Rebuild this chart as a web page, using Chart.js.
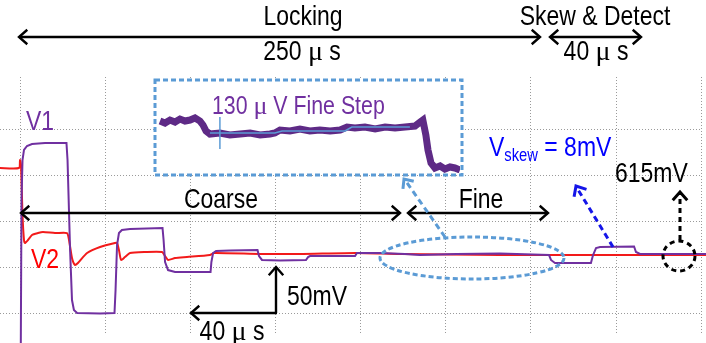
<!DOCTYPE html>
<html><head><meta charset="utf-8">
<script src="https://cdn.jsdelivr.net/npm/chart.js@4/dist/chart.umd.min.js"></script>
<style>
html,body{margin:0;padding:0;background:#fff;overflow:hidden}
#wrap{position:relative;width:706px;height:343px}
#main{position:absolute;left:0;top:0}
#inset{position:absolute;left:158px;top:83px}
</style></head>
<body><div id="wrap"><canvas id="main" width="706" height="343"></canvas><canvas id="inset" width="302" height="90"></canvas></div>
<script>
// ---- DATA (time in µs, voltage in mV; 40 µs/div, 50 mV/div) ----
const xTicks = [0, 40, 80, 120, 160, 200, 240, 280, 320];
const yTicks = [0, 50, 100, 150, 200];
const v1Time = [-9.88, -0.1, 0.24, 0.71, 1.41, 2.82, 5.18, 11.3, 21.4, 21.9, 23.1, 24.0, 24.9, 26.4, 37.2, 44.0, 44.5, 45.2, 46.1, 47.5, 51.3, 66.6, 67.1, 67.8, 69.2, 72.5, 89.2, 89.6, 90.4, 91.8, 98.4, 111.3, 112.0, 113.4, 121.9, 134.1, 135.1, 136.0, 157.2, 158.1, 168.9, 180.7, 187.8, 205.0, 225.4, 248.5, 249.4, 251.3, 260.7, 268.2, 269.2, 270.6, 272.5, 288.5, 289.4, 291.3, 322.4];
const v1mV   = [-40, -40, 123, 167, 178, 182.3, 184.5, 185.6, 185.6, 167, 68.8, 14.2, 3.3, 0, -0.5, 0, 25.1, 74.2, 87.3, 90.6, 91.7, 92.8, 79.7, 55.7, 46.9, 44.8, 44.8, 55.7, 65.5, 67.7, 68.2, 68.8, 62.2, 57.9, 57.3, 57.9, 61.1, 62.2, 62.2, 65.5, 65.5, 64.4, 63.3, 64.4, 64.9, 63.3, 57.9, 54.6, 54.6, 54.6, 63.3, 70.9, 72.0, 72.6, 66.6, 64.4, 64.4];
const v2Time = [-9.88, -0.94, -0.47, 0, 0.71, 1.41, 1.88, 3.29, 5.18, 8.0, 10.35, 16.0, 21.65, 22.6, 24.0, 25.4, 26.8, 31.1, 37.2, 44.2, 45.2, 46.1, 47.1, 48.9, 51.3, 58.4, 66.4, 67.8, 69.2, 72.5, 78.1, 88.9, 90.8, 112.5, 131.3, 157.6, 178.4, 225.4, 272.5, 322.4];
const v2mV   = [158.3, 158.3, 167.0, 161.6, 107, 79.7, 76.4, 79.7, 85.2, 87.3, 88.4, 87.3, 87.3, 79.7, 60.0, 52.4, 54.6, 65.5, 72.1, 76.4, 76.4, 68.8, 57.9, 61.1, 65.5, 66.6, 66.6, 62.2, 57.9, 60.0, 61.1, 63.3, 65.5, 64.4, 64.4, 65.5, 64.4, 63.3, 63.3, 63.3];
// inset (zoomed V1 during fine locking): relative time %, µV
const insetT  = [0.66, 2.32, 3.97, 5.63, 7.28, 8.94, 10.6, 12.25, 13.9, 14.9, 15.9, 17.2, 20.5, 23.8, 27.2, 30.5, 33.8, 37.1, 38.7, 40.4, 43.7, 47.0, 50.3, 53.6, 57.0, 60.3, 62.6, 65.2, 68.5, 71.9, 75.2, 78.5, 81.8, 85.1, 86.8, 87.7, 88.7, 89.4, 90.4, 91.7, 93.4, 95.0, 96.7, 98.3, 100];
const insetUV = [1617, 1555, 1648, 1586, 1679, 1617, 1648, 1711, 1617, 1493, 1306, 1213, 1244, 1182, 1213, 1244, 1182, 1213, 1244, 1337, 1306, 1368, 1306, 1337, 1306, 1337, 1431, 1400, 1431, 1368, 1431, 1400, 1431, 1462, 1586, 1648, 1182, 715, 311, 156, 218, 124, 187, 156, 93];
const cursorT  = [17.2, 38.7, 41.1, 61.9, 64.2, 83.4];
const cursorUV = [1244, 1244, 1306, 1306, 1431, 1431];
const markerT = [20.5], markerUV = [1244];

// ---- fonts ----
const NARROW = (function(){
  const c = document.createElement('canvas').getContext('2d');
  c.font = '100px "Liberation Sans Narrow"'; const a = c.measureText('Locking Skew Detect').width;
  c.font = '100px "Liberation Sans"'; const b = c.measureText('Locking Skew Detect').width;
  return a / b < 0.9;
})();
function fontStr(s, f){
  if (f === 's') return s + 'px "Liberation Serif", "DejaVu Serif", serif';
  return s + 'px ' + (NARROW ? '"Liberation Sans Narrow"' : '"Liberation Sans", Arial, sans-serif');
}
function sx(f){ return (f !== 's' && !NARROW) ? 0.82 : 1; }
function rich(ctx, parts, x, y, align, color){
  const w = parts.map(p => { ctx.font = fontStr(p.s, p.f); return ctx.measureText(p.t).width * sx(p.f); });
  const tot = w.reduce((a, b) => a + b, 0);
  let cx = align === 'center' ? x - tot / 2 : (align === 'right' ? x - tot : x);
  parts.forEach((p, i) => {
    ctx.save(); ctx.font = fontStr(p.s, p.f); ctx.fillStyle = p.c || color;
    ctx.textBaseline = 'alphabetic'; ctx.textAlign = 'left';
    ctx.translate(cx, y + (p.dy || 0)); ctx.scale(sx(p.f), 1); ctx.fillText(p.t, 0, 0); ctx.restore();
    cx += w[i];
  });
}
function head(ctx, x, y, ang, len, spread){
  len = len || 11; spread = spread || 0.72;
  ctx.save(); ctx.setLineDash([]);
  ctx.beginPath();
  ctx.moveTo(x - len * Math.cos(ang - spread), y - len * Math.sin(ang - spread));
  ctx.lineTo(x, y);
  ctx.lineTo(x - len * Math.cos(ang + spread), y - len * Math.sin(ang + spread));
  ctx.stroke(); ctx.restore();
}
function line(ctx, x1, y1, x2, y2){ ctx.beginPath(); ctx.moveTo(x1, y1); ctx.lineTo(x2, y2); ctx.stroke(); }
function dblArrow(ctx, x1, x2, y){ line(ctx, x1, y, x2, y); head(ctx, x1, y, Math.PI); head(ctx, x2, y, 0); }

const INSET = {x: 155, y: 80, w: 307, h: 95};
const PURPLE = '#7030A0', RED = '#F21A1A', LBLUE = '#5B9BD5';
const N = 'n', S = 's';

const overlay = {
  id: 'overlay',
  beforeDatasetsDraw(chart){
    const ctx = chart.ctx; ctx.save(); ctx.fillStyle = '#fff';
    ctx.fillRect(INSET.x, INSET.y, INSET.w, INSET.h); ctx.restore();
  },
  afterDatasetsDraw(chart){
    const ctx = chart.ctx; ctx.save();
    ctx.lineCap = 'butt'; ctx.lineJoin = 'miter';
    ctx.strokeStyle = '#000'; ctx.lineWidth = 2.4;
    dblArrow(ctx, 19, 540, 37);
    dblArrow(ctx, 550, 641, 37);
    dblArrow(ctx, 21, 400, 213);
    dblArrow(ctx, 408, 548, 213);
    line(ctx, 276, 313, 276, 267); head(ctx, 276, 267, -Math.PI / 2);
    line(ctx, 277, 313, 191, 313); head(ctx, 191, 313, Math.PI);
    const big = 28;
    rich(ctx, [{t: 'Locking', s: big, f: N}], 303, 25, 'center', '#000');
    rich(ctx, [{t: '250 ', s: big, f: N}, {t: 'μ', s: big, f: S}, {t: ' s', s: big, f: N}], 302, 60, 'center', '#000');
    rich(ctx, [{t: 'Skew & Detect', s: big, f: N}], 595, 25, 'center', '#000');
    rich(ctx, [{t: '40 ', s: big, f: N}, {t: 'μ', s: big, f: S}, {t: ' s', s: big, f: N}], 596, 60, 'center', '#000');
    rich(ctx, [{t: 'Coarse', s: big, f: N}], 221, 208, 'center', '#000');
    rich(ctx, [{t: 'Fine', s: big, f: N}], 481, 208, 'center', '#000');
    rich(ctx, [{t: 'V1', s: big, f: N}], 26, 130, 'left', PURPLE);
    rich(ctx, [{t: 'V2', s: big, f: N}], 31, 268, 'left', '#FF0000');
    rich(ctx, [{t: '50mV', s: big, f: N}], 287, 305, 'left', '#000');
    rich(ctx, [{t: '40 ', s: big, f: N}, {t: 'μ', s: big, f: S}, {t: ' s', s: big, f: N}], 232, 340, 'center', '#000');
    rich(ctx, [{t: '615mV', s: big, f: N}], 615, 182, 'left', '#000');
    rich(ctx, [{t: 'V', s: big, f: N}, {t: 'skew', s: 18, f: N, dy: 5}, {t: ' = 8mV', s: big, f: N}], 489, 156, 'left', '#0000FF');
    rich(ctx, [{t: '130 ', s: 26, f: N}, {t: 'μ', s: 26, f: S}, {t: ' V Fine Step', s: 26, f: N}], 212, 114, 'left', PURPLE);
    ctx.strokeStyle = LBLUE; ctx.lineWidth = 3; ctx.setLineDash([5, 3]);
    ctx.strokeRect(INSET.x, INSET.y, INSET.w, INSET.h);
    ctx.beginPath(); ctx.ellipse(472, 258, 92, 21, 0, 0, Math.PI * 2); ctx.stroke();
    ctx.setLineDash([6, 4]);
    line(ctx, 445, 237, 405, 180); head(ctx, 404, 179, Math.atan2(179 - 237, 404 - 445), 10);
    ctx.strokeStyle = '#1515E8'; ctx.setLineDash([6, 4]);
    line(ctx, 613, 247, 577, 188); head(ctx, 576, 186, Math.atan2(186 - 247, 576 - 613), 11);
    ctx.strokeStyle = '#000'; ctx.setLineDash([5, 4]);
    ctx.beginPath(); ctx.ellipse(679, 256, 16, 15, 0, 0, Math.PI * 2); ctx.stroke();
    line(ctx, 680, 240, 680, 194); head(ctx, 680, 192, -Math.PI / 2, 11);
    ctx.restore();
  }
};

const pts = (xs, ys) => xs.map((x, i) => ({x: x, y: ys[i]}));
const GRID = '#9a9a9a';

new Chart(document.getElementById('main'), {
  type: 'line',
  data: { datasets: [
    { label: 'V1', data: pts(v1Time, v1mV), borderColor: PURPLE, borderWidth: 2, pointRadius: 0, tension: 0, clip: false },
    { label: 'V2', data: pts(v2Time, v2mV), borderColor: RED, borderWidth: 2, pointRadius: 0, tension: 0.2, clip: false }
  ]},
  options: {
    responsive: false, animation: false, devicePixelRatio: 1,
    layout: { autoPadding: false, padding: { left: 0, right: 4, top: 77, bottom: 10 } },
    plugins: { legend: { display: false }, tooltip: { enabled: false } },
    scales: {
      x: { type: 'linear', min: -9.88, max: 320.47,
           afterBuildTicks: s => { s.ticks = xTicks.map(v => ({value: v})); },
           afterFit: s => { s.height = 0; },
           ticks: { display: false }, grid: { color: GRID, lineWidth: 1, drawTicks: false },
           border: { display: false, dash: [1, 2] } },
      y: { type: 'linear', min: -21.8, max: 257.6,
           afterBuildTicks: s => { s.ticks = yTicks.map(v => ({value: v})); },
           afterFit: s => { s.width = 0; },
           ticks: { display: false }, grid: { color: GRID, lineWidth: 1, drawTicks: false },
           border: { display: false, dash: [1, 2] } }
    }
  },
  plugins: [overlay]
});

new Chart(document.getElementById('inset'), {
  type: 'line',
  data: { datasets: [
    { label: 'marker', data: pts(markerT, markerUV), showLine: false, pointStyle: 'line', rotation: 90, pointRadius: 16, borderColor: LBLUE, borderWidth: 1.5, clip: false },
    { label: 'cursor', data: pts(cursorT, cursorUV), borderColor: LBLUE, borderWidth: 1.5, pointRadius: 0, tension: 0 },
    { label: 'V1 zoom', data: pts(insetT, insetUV), borderColor: '#5E2A86', borderWidth: 7, pointRadius: 0, tension: 0, clip: false }
  ]},
  options: {
    responsive: false, animation: false, devicePixelRatio: 1,
    layout: { autoPadding: false, padding: 0 },
    plugins: { legend: { display: false }, tooltip: { enabled: false } },
    scales: {
      x: { type: 'linear', min: 0, max: 100, display: false },
      y: { type: 'linear', min: 0, max: 2800, display: false }
    }
  }
});
</script>
</body></html>
